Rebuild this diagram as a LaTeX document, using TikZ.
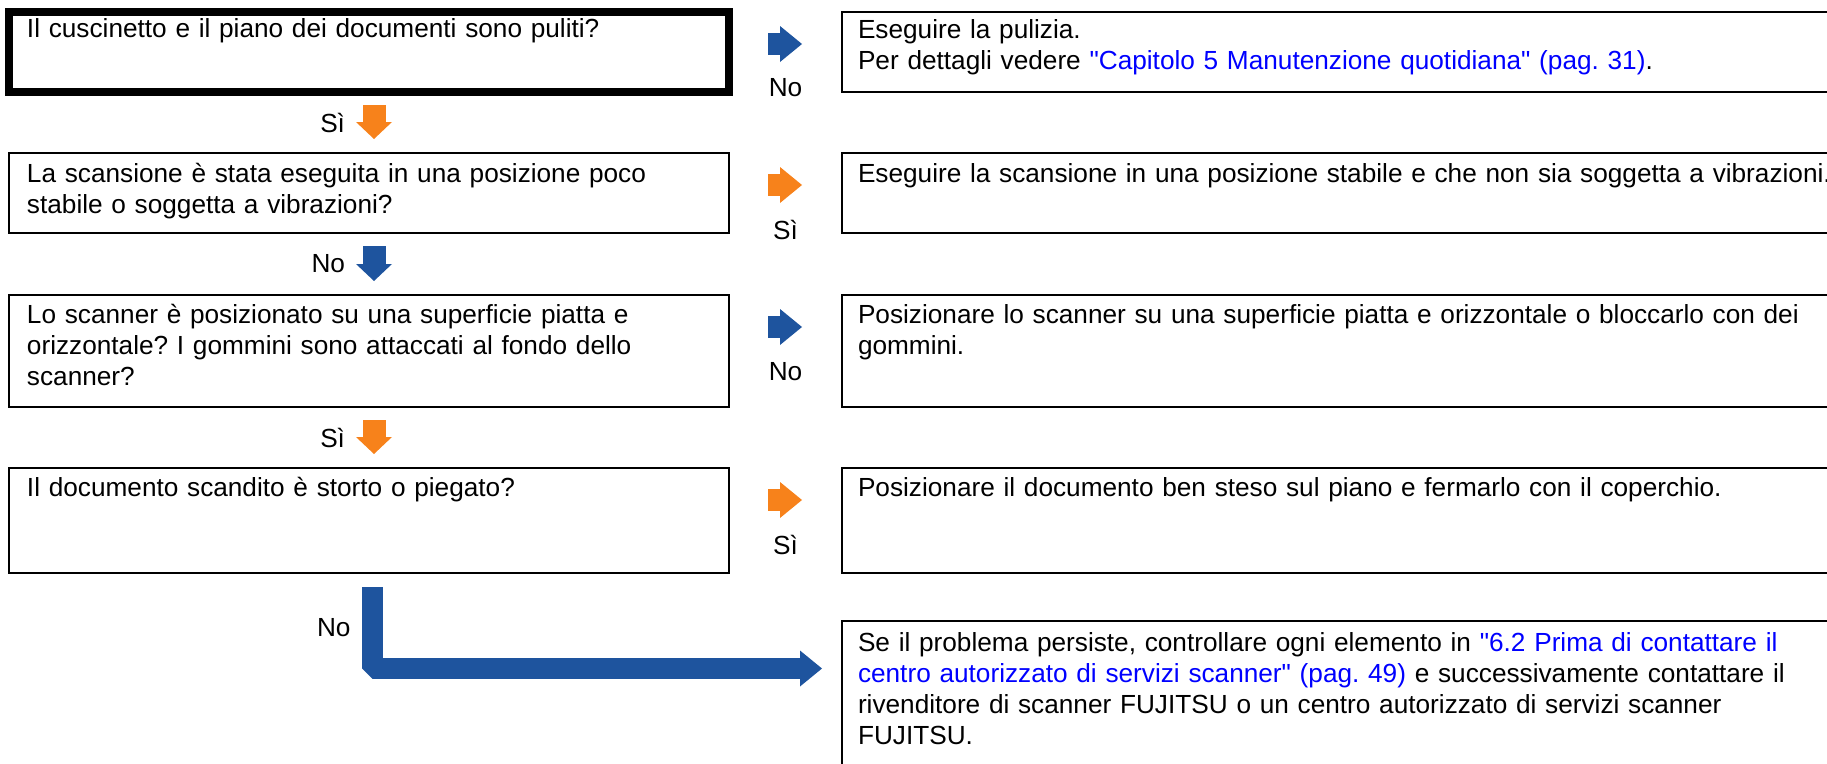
\documentclass[tikz,border=0pt]{standalone}
\usepackage{fontspec}
\setmainfont{Liberation Sans}
\usetikzlibrary{positioning, arrows.meta}

\definecolor{noblue}{RGB}{30,84,158}
\definecolor{siorange}{RGB}{247,130,27}
\definecolor{linkblue}{RGB}{0,0,255}
\newcommand{\flowfont}{\fontsize{26.2pt}{31pt}\selectfont\frenchspacing}
\newcommand{\linkref}[1]{\textcolor{linkblue}{#1}}
\newcommand{\qq}{\textquotedbl}

\begin{document}
\begin{tikzpicture}[x=1pt, y=1pt, font=\flowfont,
    qbox/.style={draw, line width=2pt, outer sep=0pt, anchor=north west,
      inner ysep=0pt, align=left},
    leftbox/.style={qbox, inner xsep=18pt, text width=684pt},
    rightbox/.style={qbox, inner xsep=16pt, text width=1010pt},
    downarrow/.style={line width=23pt, shorten <=13pt, shorten >=14pt,
      -{Triangle[width=36pt, length=17pt, line width=0pt]}},
    sidearrow/.style={line width=22pt, shorten <=39pt, shorten >=40pt,
      -{Triangle[width=36pt, length=22pt, line width=0pt]}},
    bigarrow/.style={line width=21pt, line join=bevel,
      -{Triangle[width=36pt, length=22pt, line width=0pt]}},
    lbl/.style={inner sep=0pt, outer sep=0pt, text=black}]
  \useasboundingbox (0,0) rectangle (1827,-763);

  % domande
  \node[leftbox, line width=8pt, text height=25pt, text depth=55pt] (q1) at (9,-12)
    {Il cuscinetto e il piano dei documenti sono puliti?};
  \node[leftbox, text height=29pt, text depth=51pt] (q2) [below=61pt of q1.south west, anchor=north west]
    {La scansione è stata eseguita in una posizione poco\\stabile o soggetta a vibrazioni?};
  \node[leftbox, text height=28pt, text depth=84pt] (q3) [below=62pt of q2.south west, anchor=north west]
    {Lo scanner è posizionato su una superficie piatta e\\orizzontale? I gommini sono attaccati al fondo dello\\scanner?};
  \node[leftbox, text height=28pt, text depth=77pt] (q4) [below=61pt of q3.south west, anchor=north west]
    {Il documento scandito è storto o piegato?};

  % risposte
  \node[rightbox, text height=26pt, text depth=54pt] (a1) [right=113pt of q1.north east, anchor=north west]
    {Eseguire la pulizia.\\Per dettagli vedere \linkref{\qq Capitolo 5 Manutenzione quotidiana\qq{} (pag. 31)}.};
  \node[rightbox, text height=29pt, text depth=51pt] (a2) [right=113pt of q2.north east, anchor=north west]
    {Eseguire la scansione in una posizione stabile e che non sia soggetta a vibrazioni.};
  \node[rightbox, text height=28pt, text depth=84pt] (a3) [right=113pt of q3.north east, anchor=north west]
    {Posizionare lo scanner su una superficie piatta e orizzontale o bloccarlo con dei\\gommini.};
  \node[rightbox, text height=28pt, text depth=77pt] (a4) [right=113pt of q4.north east, anchor=north west]
    {Posizionare il documento ben steso sul piano e fermarlo con il coperchio.};
  \node[rightbox, text height=30pt, text depth=150pt] (a5) [below=48pt of a4.south west, anchor=north west]
    {Se il problema persiste, controllare ogni elemento in \linkref{\qq 6.2 Prima di contattare il}\\
     \linkref{centro autorizzato di servizi scanner\qq{} (pag. 49)} e successivamente contattare il\\
     rivenditore di scanner FUJITSU o un centro autorizzato di servizi scanner\\
     FUJITSU.};

  \draw[downarrow, siorange] ([xshift=5pt]q1.south) -- ([xshift=5pt]q2.north)
    node[midway, lbl, left=29pt] {Sì};
  \draw[downarrow, noblue] ([xshift=5pt]q2.south) -- ([xshift=5pt]q3.north)
    node[midway, lbl, left=29pt] {No};
  \draw[downarrow, siorange] ([xshift=5pt]q3.south) -- ([xshift=5pt]q4.north)
    node[midway, lbl, left=29pt] {Sì};

  \draw[sidearrow, noblue] ([yshift=-32pt]q1.north east) -- ([yshift=-32pt]a1.north west)
    node[midway, lbl, yshift=-44pt] {No};
  \draw[sidearrow, siorange] ([yshift=-32pt]q2.north east) -- ([yshift=-32pt]a2.north west)
    node[midway, lbl, yshift=-45pt] {Sì};
  \draw[sidearrow, noblue] ([yshift=-32pt]q3.north east) -- ([yshift=-32pt]a3.north west)
    node[midway, lbl, yshift=-45pt] {No};
  \draw[sidearrow, siorange] ([yshift=-32pt]q4.north east) -- ([yshift=-32pt]a4.north west)
    node[midway, lbl, yshift=-45pt] {Sì};

  \coordinate (tofine) at ([xshift=-20pt, yshift=-47.5pt]a5.north west);
  \draw[bigarrow, noblue] ([xshift=3.5pt, yshift=-14pt]q4.south) |- node[pos=.25, lbl, left=22pt] {No} (tofine);
\end{tikzpicture}
\end{document}
